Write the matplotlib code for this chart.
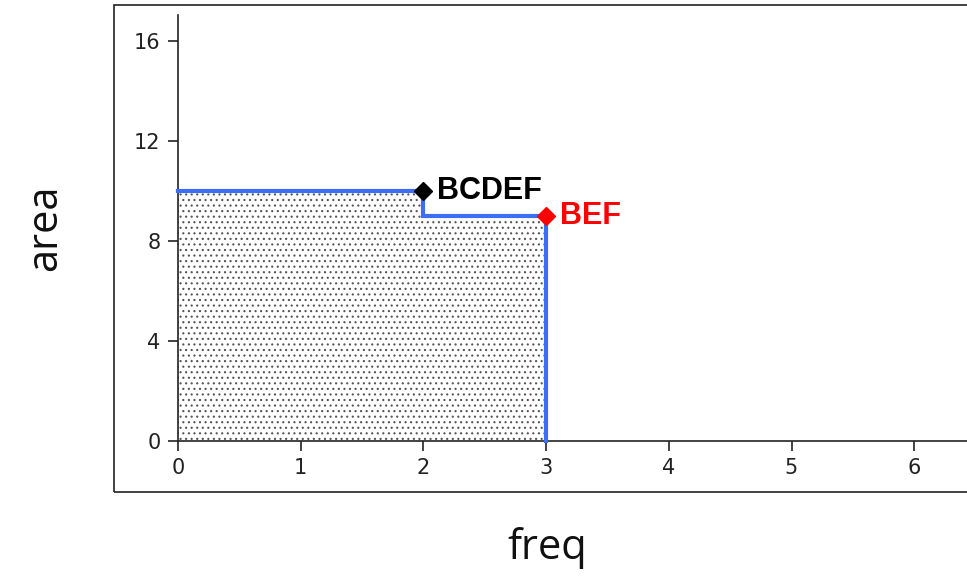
import matplotlib
matplotlib.use("Agg")
import matplotlib.pyplot as plt
from matplotlib.patches import Rectangle

# data
step_x = [0, 2, 2, 3, 3]
step_y = [10, 10, 9, 9, 0]
points_x = [2, 3]
points_y = [10, 9]
point_labels = ["BCDEF", "BEF"]
point_colors = ["black", "red"]
x_ticks = [0, 1, 2, 3, 4, 5, 6]
y_ticks = [0, 4, 8, 12, 16]

plt.rcParams["hatch.linewidth"] = 0.8

W, H = 967, 577
fig = plt.figure(figsize=(W / 100, H / 100), dpi=100)

ax_left, ax_bottom, ax_top, ax_right = 178, 441, 15, 967
ax = fig.add_axes([ax_left / W, 1 - ax_bottom / H, (ax_right - ax_left) / W, (ax_bottom - ax_top) / H])

# outer frame
fig.patches.append(Rectangle((114 / W, 1 - 492 / H), 1.0, (492 - 5) / H,
                             transform=fig.transFigure, fill=False,
                             edgecolor="#222222", linewidth=1.2, clip_on=False))

# hatched area under step
ax.fill_between(step_x, step_y, 0, facecolor="white", edgecolor="#555555",
                hatch="...", linewidth=0, zorder=1)
ax.plot(step_x, step_y, color="#3c6ef5", linewidth=3, zorder=3,
        solid_joinstyle="miter", clip_on=False)

for x, y, lab, c in zip(points_x, points_y, point_labels, point_colors):
    ax.plot([x], [y], marker="D", markersize=9, color=c, zorder=4, clip_on=False)
    ax.annotate(lab, (x, y), xytext=(10, 0), textcoords="offset points",
                ha="left", va="center", color=c, fontsize=22, fontweight="bold",
                family="Liberation Sans", zorder=5)

ax.set_xlim(0, (ax_right - ax_left) / 122.7)
ax.set_ylim(0, (ax_bottom - ax_top) / 25.0)
ax.set_xticks(x_ticks)
ax.set_yticks(y_ticks)
ax.tick_params(direction="out", length=7.5, width=1.2, labelsize=15, colors="#222222", pad=5)
for s in ["top", "right"]:
    ax.spines[s].set_visible(False)
for s in ["left", "bottom"]:
    ax.spines[s].set_linewidth(1.2)
    ax.spines[s].set_color("#222222")

fig.text(547 / W, 1 - 548 / H, "freq", ha="center", va="center", fontsize=30,
         family="Open Sans", color="#111111")
fig.text(45 / W, 1 - 228 / H, "area", ha="center", va="center", fontsize=30,
         rotation=90, family="Open Sans", color="#111111")

fig.savefig("out.png", dpi=100)
